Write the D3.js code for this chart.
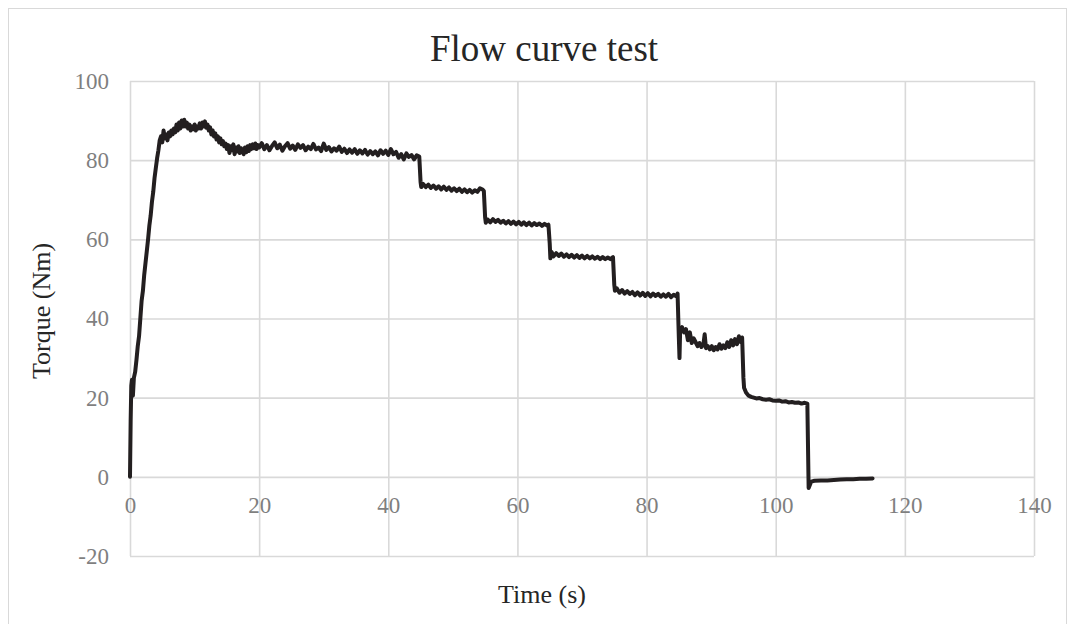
<!DOCTYPE html>
<html>
<head>
<meta charset="utf-8">
<script src="https://cdn.jsdelivr.net/npm/d3@7"></script>
<style>
  html, body { margin: 0; padding: 0; background: #fff; }
  svg { display: block; }
  svg text { font-family: 'Liberation Serif', 'Times New Roman', serif; }
</style>
</head>
<body>
<svg id="chart" width="1073" height="624"></svg>
<script>
const chartTitle = "Flow curve test";
const xAxisTitle = "Time (s)";
const yAxisTitle = "Torque (Nm)";
const xTicks = [0, 20, 40, 60, 80, 100, 120, 140];
const yTicks = [-20, 0, 20, 40, 60, 80, 100];

// Time (s) samples
const timeS = [
  0, 0.1, 0.2, 0.3, 0.45, 0.6, 0.8, 1.0, 1.2, 1.4, 1.6, 1.8, 2.0, 2.2, 2.4, 2.6, 2.8, 3.0, 3.2, 3.4, 3.6, 3.8, 4.0, 4.2, 4.4, 4.6, 4.8, 5.0,
  5.2, 5.4, 5.6, 5.8, 6.0, 6.2, 6.4, 6.6, 6.8, 7.0, 7.2, 7.4, 7.6, 7.8, 8.0, 8.2, 8.4, 8.6, 8.8, 9.0, 9.2, 9.4, 9.6, 9.8,
  10.0, 10.2, 10.4, 10.6, 10.8, 11.0, 11.2, 11.4, 11.6, 11.8, 12.0, 12.2, 12.4, 12.6, 12.8, 13.0, 13.2, 13.4, 13.6, 13.8,
  14.0, 14.2, 14.4, 14.6, 14.8, 15.0, 15.2, 15.4, 15.6, 15.8, 16.0, 16.2, 16.4, 16.6, 16.8, 17.0, 17.2, 17.4, 17.6, 17.8,
  18.0, 18.2, 18.4, 18.6, 18.8, 19.0, 19.2, 19.4, 19.6, 19.8,
  20.0, 20.4, 20.8, 21.2, 21.6, 22.0, 22.4, 22.8, 23.2, 23.6, 24.0, 24.4, 24.8, 25.2, 25.6, 26.0, 26.4, 26.8, 27.2, 27.6,
  28.0, 28.4, 28.8, 29.2, 29.6, 30.0, 30.4, 30.8, 31.2, 31.6, 32.0, 32.4, 32.8, 33.2, 33.6, 34.0, 34.4, 34.8, 35.2, 35.6,
  36.0, 36.4, 36.8, 37.2, 37.6, 38.0, 38.4, 38.8, 39.2, 39.6, 40.0, 40.4, 40.8, 41.2, 41.6, 42.0, 42.4, 42.8, 43.2, 43.6,
  44.0, 44.4, 44.8,
  45.0, 45.1, 45.4, 45.8, 46.2, 46.6, 47.0, 47.4, 47.8, 48.2, 48.6, 49.0, 49.4, 49.8, 50.2, 50.6, 51.0, 51.4, 51.8, 52.2,
  52.6, 53.0, 53.4, 53.8, 54.2, 54.6, 54.8,
  55.0, 55.1, 55.4, 55.8, 56.2, 56.6, 57.0, 57.4, 57.8, 58.2, 58.6, 59.0, 59.4, 59.8, 60.2, 60.6, 61.0, 61.4, 61.8, 62.2,
  62.6, 63.0, 63.4, 63.8, 64.2, 64.6, 64.8,
  65.0, 65.1, 65.3, 65.6, 66.0, 66.4, 66.8, 67.2, 67.6, 68.0, 68.4, 68.8, 69.2, 69.6, 70.0, 70.4, 70.8, 71.2, 71.6, 72.0,
  72.4, 72.8, 73.2, 73.6, 74.0, 74.4, 74.8,
  75.0, 75.1, 75.4, 75.8, 76.2, 76.6, 77.0, 77.4, 77.8, 78.2, 78.6, 79.0, 79.4, 79.8, 80.2, 80.6, 81.0, 81.4, 81.8, 82.2,
  82.6, 83.0, 83.4, 83.8, 84.2, 84.6, 84.8,
  85.0, 85.1, 85.2, 85.5, 85.8, 86.1, 86.4, 86.7, 87.0, 87.3, 87.6, 87.9, 88.2, 88.5, 88.8, 89.0, 89.2, 89.5, 89.8, 90.1,
  90.4, 90.7, 91.0, 91.3, 91.6, 91.9, 92.2, 92.5, 92.8, 93.1, 93.4, 93.7, 94.0, 94.3, 94.6, 94.8,
  95.0, 95.1, 95.4, 95.8, 96.2, 96.6, 97.0, 97.5, 98.0, 98.5, 99.0, 99.5, 100.0, 100.5, 101.0, 101.5, 102.0, 102.5, 103.0,
  103.5, 104.0, 104.5, 104.9,
  105.1, 105.5, 106.0, 107.0, 108.0, 109.0, 110.0, 111.0, 112.0, 113.0, 114.0, 115.0
];

// Torque (Nm) samples
const torqueNm = [
  0, 14, 23, 24.5, 20.5, 25, 26.5, 29.5, 33, 35.5, 40, 44.5, 47, 51, 54, 57, 60, 63.5, 66, 69.5, 72, 75.5, 78, 80.5, 82.5, 85, 86, 84.5,
  87.5, 85.5, 86.5, 85, 87, 86, 87.5, 86.5, 88, 87, 89, 87.5, 89.5, 88, 90, 88.5, 90.2, 88.5, 89.5, 88, 89, 87.5, 88.5, 87.8,
  89, 87.5, 88.5, 88, 89.3, 88, 89.5, 88.5, 89.8, 88.2, 89, 87.5, 88.3, 86.5, 87.5, 86, 86.8, 85.2, 86, 84.5,
  85.5, 84, 84.8, 83.5, 84.2, 82.8, 83.8, 81.8, 83.5, 82.5, 84, 81.5, 83.2, 82.2, 83.5, 81.8, 83, 82.5, 81.5, 83.2,
  82, 83.5, 82.3, 83.8, 82.8, 84, 83, 84.2, 82.8, 83.8,
  83.2, 84.3, 82.8, 83.8, 82.5, 83.6, 84.5, 83, 83.9, 82.4, 83.5, 84.3, 82.9, 83.7, 82.6, 84, 83.1, 83.8, 82.5, 83.4,
  82.8, 84.1, 82.7, 83.2, 82.3, 84.2, 82.6, 83.3, 82.2, 83, 82.4, 83.4, 82.1, 82.9, 81.8, 82.7, 81.9, 82.8, 81.6, 82.5,
  81.7, 82.6, 81.4, 82.3, 81.5, 82.2, 81.2, 82.5, 81.6, 82.4, 81.3, 82.8, 81.5, 82.1, 80.6, 81.5, 80.2, 81.7, 80.8, 81.3,
  80.2, 81.2, 80.9,
  74.5, 73.2, 74, 73.2, 73.8, 73, 73.6, 72.8, 73.4, 72.6, 73.3, 72.5, 73.1, 72.3, 72.9, 72.2, 72.8, 72, 72.6, 71.9,
  72.5, 71.8, 72.4, 72, 72.9, 72.6, 72.2,
  65.5, 64.2, 65, 64.3, 65.1, 64.4, 64.9, 64.2, 64.7, 64, 64.6, 63.9, 64.5, 63.8, 64.4, 63.7, 64.3, 63.6, 64.2, 63.5,
  64.1, 63.6, 64, 63.4, 63.9, 63.5, 63.7,
  59, 55.2, 56.8, 55.7, 56.5, 55.8, 56.4, 55.6, 56.2, 55.5, 56.1, 55.4, 56, 55.3, 55.9, 55.2, 55.8, 55.2, 55.7, 55.1,
  55.6, 55, 55.5, 55, 55.4, 55, 55.5,
  48.5, 47, 47.6, 46.5, 47.2, 46.3, 46.9, 46.2, 46.7, 45.9, 46.6, 45.8, 46.5, 45.7, 46.4, 45.6, 46.3, 45.7, 46.2, 45.5,
  46.1, 45.5, 46.2, 45.4, 46, 45.6, 46.3,
  35, 30, 37, 37.8, 36.5, 37.3, 34.5, 36.5, 33.8, 35, 34, 33, 33.8, 32.8, 33.5, 36, 32.5, 33, 32.2, 33,
  32, 32.8, 32.2, 33.5, 32.4, 33.2, 32.5, 34, 32.8, 34.5, 33.2, 34.8, 33.5, 35.5, 34, 35.2,
  25, 22.5, 21.3, 20.5, 20.2, 20, 19.8, 19.9, 19.6, 19.5, 19.6, 19.3, 19.2, 19.3, 19, 19.1, 18.8, 18.9, 18.7,
  18.8, 18.5, 18.7, 18.5,
  -2.8, -1.2, -1.0, -0.9, -0.9, -0.8, -0.7, -0.6, -0.6, -0.5, -0.5, -0.4
];

const W = 1073, H = 624;
const margin = { left: 130, right: W - 1034, top: 81, bottom: H - 556 };

const svg = d3.select("#chart");
const fontFamily = "Liberation Serif";
const tickFmt = d => String(d);

// chart border
svg.append("rect")
  .attr("x", 8.5).attr("y", 8.5)
  .attr("width", 1058).attr("height", 630)
  .attr("fill", "#fff")
  .attr("stroke", "#d9d9d9").attr("stroke-width", 1);

const x = d3.scaleLinear().domain([0, 140]).range([margin.left, W - margin.right]);
const y = d3.scaleLinear().domain([-20, 100]).range([H - margin.bottom, margin.top]);

const gridColor = "#d9d9d9";

// vertical gridlines
svg.append("g")
  .attr("transform", `translate(0,${H - margin.bottom})`)
  .call(d3.axisBottom(x).tickValues(xTicks).tickSize(-(H - margin.bottom - margin.top)).tickFormat(""))
  .call(g => g.select(".domain").remove())
  .call(g => g.selectAll("line").attr("stroke", gridColor).attr("stroke-width", 1.6));

// horizontal gridlines
svg.append("g")
  .attr("transform", `translate(${margin.left},0)`)
  .call(d3.axisLeft(y).tickValues(yTicks).tickSize(-(W - margin.right - margin.left)).tickFormat(""))
  .call(g => g.select(".domain").remove())
  .call(g => g.selectAll("line").attr("stroke", gridColor).attr("stroke-width", 1.6));

// y tick labels
svg.append("g")
  .attr("transform", `translate(${margin.left},0)`)
  .attr("font-family", fontFamily)
  .call(d3.axisLeft(y).tickValues(yTicks).tickSize(0).tickPadding(21).tickFormat(tickFmt))
  .attr("font-family", fontFamily).attr("font-size", 23)
  .call(g => g.select(".domain").remove())
  .call(g => g.selectAll("text")
    .style("font-family", "'Liberation Serif', serif").style("font-size", "23px").attr("fill", "#7f7f7f"));

// x tick labels along the zero line
svg.append("g")
  .attr("transform", `translate(0,${y(0)})`)
  .call(d3.axisBottom(x).tickValues(xTicks).tickSize(0).tickPadding(20).tickFormat(tickFmt))
  .attr("font-family", fontFamily).attr("font-size", 23)
  .call(g => g.select(".domain").remove())
  .call(g => g.selectAll("text")
    .style("font-family", "'Liberation Serif', serif").style("font-size", "23px").attr("fill", "#7f7f7f"));

// series
const data = timeS.map((t, i) => [t, torqueNm[i]]);
svg.append("path")
  .datum(data)
  .attr("fill", "none")
  .attr("stroke", "#231f20")
  .attr("stroke-width", 4)
  .attr("stroke-linejoin", "round")
  .attr("stroke-linecap", "round")
  .attr("d", d3.line().x(d => x(d[0])).y(d => y(d[1])));

// titles
svg.append("text")
  .attr("x", 544).attr("y", 61)
  .attr("text-anchor", "middle")
  .style("font-size", "37px").attr("fill", "#262626")
  .text(chartTitle);

svg.append("text")
  .attr("x", 542).attr("y", 603)
  .attr("text-anchor", "middle")
  .style("font-size", "26px").attr("fill", "#262626")
  .text(xAxisTitle);

svg.append("text")
  .attr("transform", "translate(50,311) rotate(-90)")
  .attr("text-anchor", "middle")
  .style("font-size", "26px").attr("fill", "#262626")
  .text(yAxisTitle);
</script>
</body>
</html>
